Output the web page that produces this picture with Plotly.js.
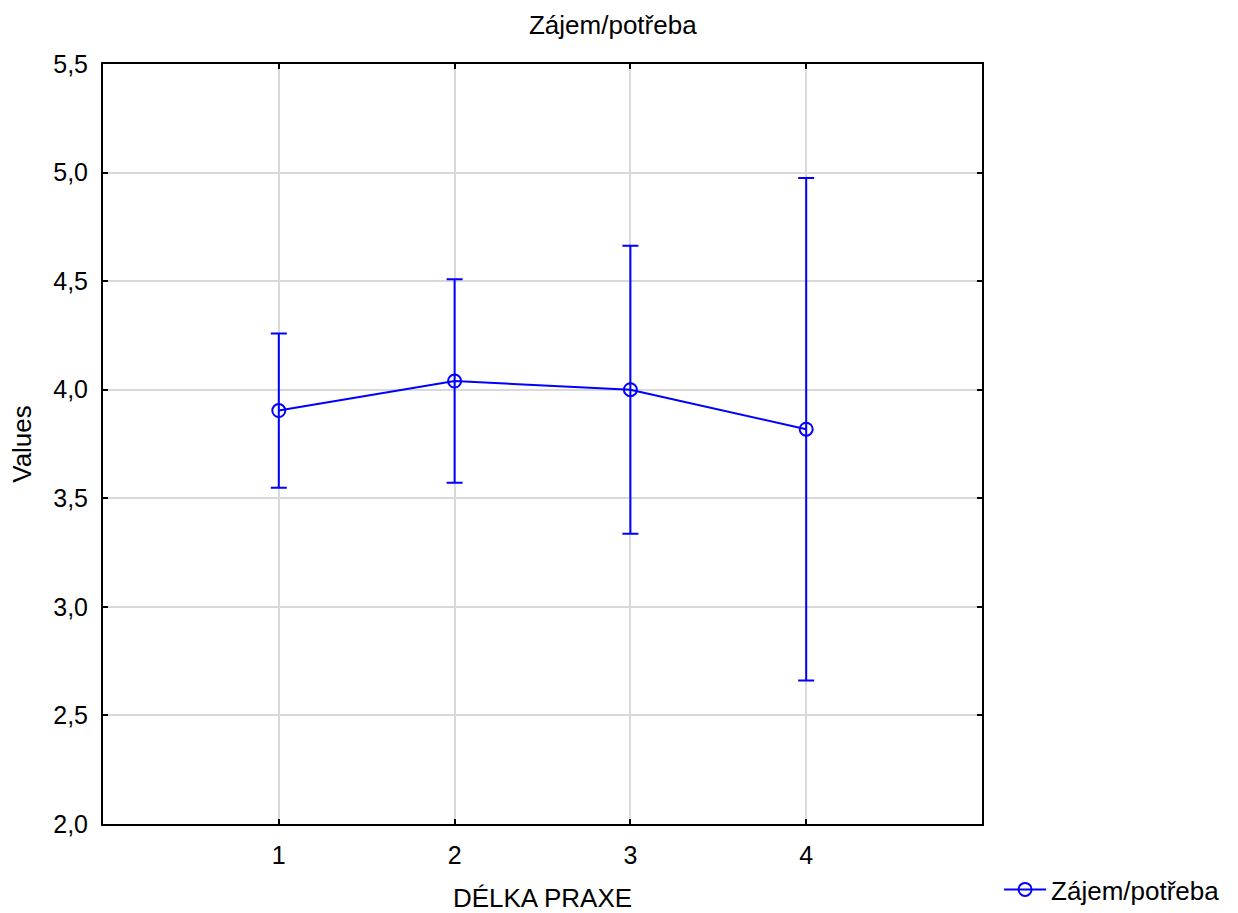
<!DOCTYPE html>
<html>
<head>
<meta charset="utf-8">
<script src="https://cdn.plot.ly/plotly-3.0.1.min.js"></script>
<style>html,body{margin:0;padding:0;background:#fff;}#chart{width:1238px;height:913px;}</style>
</head>
<body>
<div id="chart"></div>
<script>
const categories = [1, 2, 3, 4];
const means = [3.904, 4.040, 4.000, 3.818];
const errors = [0.355, 0.469, 0.663, 1.157];
const seriesName = "Zájem/potřeba";
const chartTitle = "Zájem/potřeba";
const xTitle = "DÉLKA PRAXE";
const yTitle = "Values";
const yTicks = [2.0, 2.5, 3.0, 3.5, 4.0, 4.5, 5.0, 5.5];

const FONT = "Liberation Sans, Arial, sans-serif";
const TXT = 26, TICK = 25;
const trace = {
  x: categories, y: means, name: seriesName,
  type: "scatter", mode: "lines+markers",
  line: {color: "#0000ff", width: 2},
  marker: {symbol: "circle-open", size: 13, color: "#0000ff", line: {width: 2, color: "#0000ff"}},
  error_y: {type: "data", array: errors, visible: true, color: "#0000ff", thickness: 2, width: 8},
  showlegend: true
};
const layout = {
  width: 1238, height: 913,
  margin: {l: 103, r: 256, t: 64, b: 89, pad: 0},
  paper_bgcolor: "#ffffff", plot_bgcolor: "#ffffff",
  separators: ",.",
  font: {family: FONT, size: TXT, color: "#000"},
  title: {text: chartTitle, font: {family: FONT, size: TXT, color: "#000"}, xref: "container", x: 0.495, xanchor: "center", yref: "container", y: 0.973, yanchor: "middle"},
  xaxis: {
    range: [0, 5], tickmode: "array", tickvals: categories, ticktext: categories.map(String),
    automargin: false,
    showgrid: true, gridcolor: "#d9d9d9", gridwidth: 2,
    showline: true, linecolor: "#000", linewidth: 2, mirror: "ticks",
    ticks: "inside", ticklen: 5, tickwidth: 2, tickcolor: "#000",
    ticklabelstandoff: 8,
    zeroline: false, tickfont: {family: FONT, size: TICK, color: "#000"},
    title: {text: xTitle, font: {family: FONT, size: TXT, color: "#000"}, standoff: 21}
  },
  yaxis: {
    range: [2.0, 5.5], tickmode: "array", tickvals: yTicks, tickformat: ".1f",
    automargin: false,
    showgrid: true, gridcolor: "#d9d9d9", gridwidth: 2,
    showline: true, linecolor: "#000", linewidth: 2, mirror: "ticks",
    ticks: "inside", ticklen: 5, tickwidth: 2, tickcolor: "#000",
    ticklabelstandoff: 8,
    zeroline: false, tickfont: {family: FONT, size: TICK, color: "#000"},
    title: {text: yTitle, font: {family: FONT, size: TXT, color: "#000"}, standoff: 14}
  },
  showlegend: true,
  legend: {xref: "container", x: 0.807, xanchor: "left", yref: "container", y: 0, yanchor: "bottom", itemwidth: 42, font: {family: FONT, size: TXT, color: "#000"}, bgcolor: "rgba(0,0,0,0)"}
};
Plotly.newPlot("chart", [trace], layout, {displayModeBar: false, staticPlot: true});
</script>
</body>
</html>
